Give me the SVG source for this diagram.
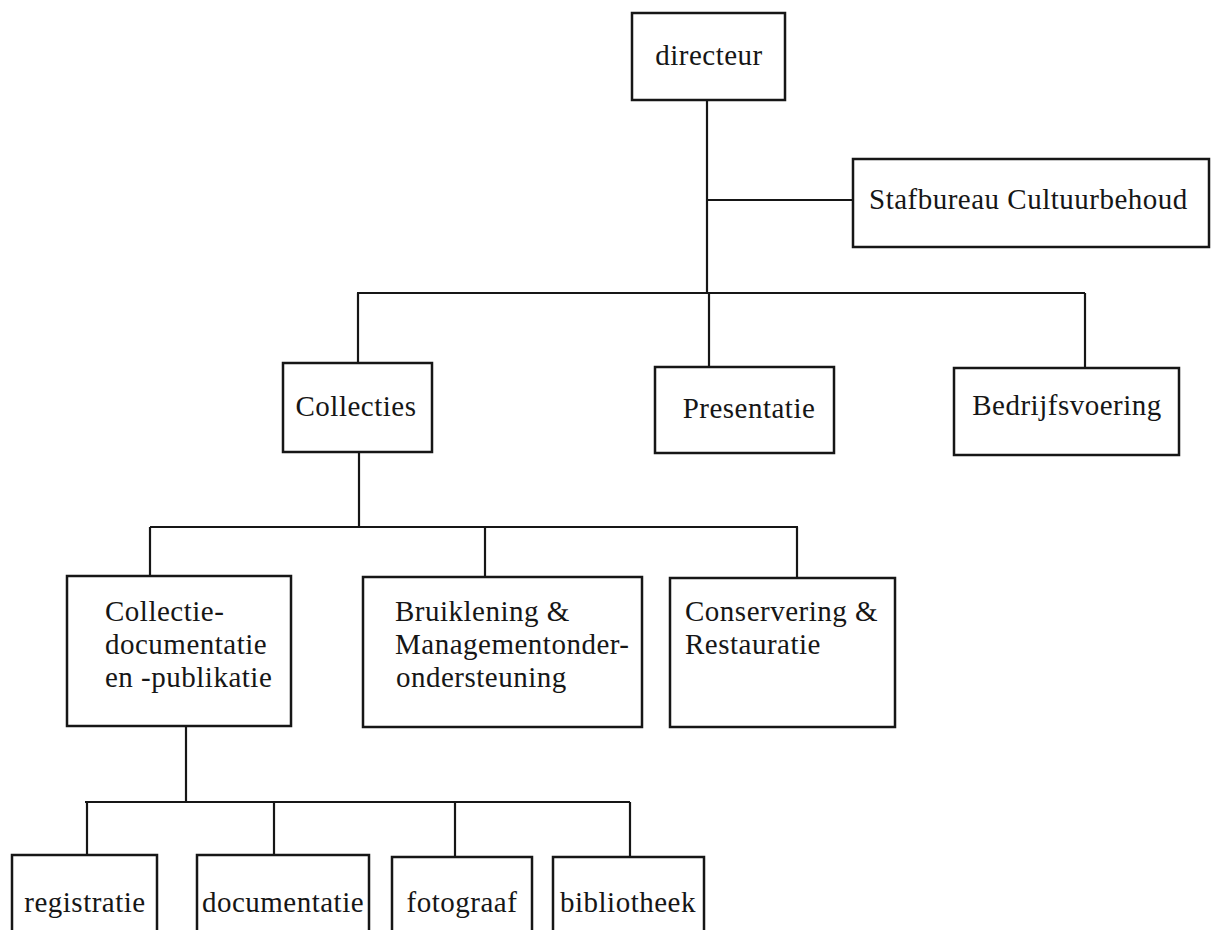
<svg xmlns="http://www.w3.org/2000/svg" width="1213" height="930" viewBox="0 0 1213 930">
<style>
.box{fill:#fff;stroke:#161616;stroke-width:2.5}
.ln{fill:none;stroke:#161616;stroke-width:2.2}
text{font-family:"Liberation Serif","Times New Roman",serif;font-size:29px;fill:#161616;letter-spacing:0.5px}
.c{text-anchor:middle}
</style>
<rect width="1213" height="930" fill="#fff"/>
<g id="connectors">
<path class="ln" d="M707,100 V293"/>
<path class="ln" d="M707,200 H853"/>
<path class="ln" d="M357,293 H1085"/>
<path class="ln" d="M358,293 V363"/>
<path class="ln" d="M709,293 V367"/>
<path class="ln" d="M1085,293 V368"/>
<path class="ln" d="M359,452 V527"/>
<path class="ln" d="M150,527 H798"/>
<path class="ln" d="M150,527 V576"/>
<path class="ln" d="M485,527 V577"/>
<path class="ln" d="M797,527 V578"/>
<path class="ln" d="M186,726 V802"/>
<path class="ln" d="M85,802 H630"/>
<path class="ln" d="M87,802 V855"/>
<path class="ln" d="M274,802 V855"/>
<path class="ln" d="M455,802 V857"/>
<path class="ln" d="M630,802 V856"/>
</g>
<g id="directeur">
<rect class="box" x="632" y="13" width="153" height="87"/>
<text class="c" x="709" y="65">directeur</text>
</g>
<g id="stafbureau">
<rect class="box" x="853" y="159" width="356" height="88"/>
<text x="869" y="209">Stafbureau Cultuurbehoud</text>
</g>
<g id="collecties">
<rect class="box" x="283" y="363" width="149" height="89"/>
<text class="c" x="356" y="416">Collecties</text>
</g>
<g id="presentatie">
<rect class="box" x="655" y="367" width="179" height="86"/>
<text class="c" x="749" y="418">Presentatie</text>
</g>
<g id="bedrijfsvoering">
<rect class="box" x="954" y="368" width="225" height="87"/>
<text class="c" x="1067" y="415">Bedrijfsvoering</text>
</g>
<g id="collectiedocumentatie">
<rect class="box" x="67" y="576" width="224" height="150"/>
<text x="105" y="621">Collectie-</text>
<text x="105" y="654">documentatie</text>
<text x="105" y="687">en -publikatie</text>
</g>
<g id="bruiklening">
<rect class="box" x="363" y="577" width="279" height="150"/>
<text x="395" y="621">Bruiklening &amp;</text>
<text x="395" y="654">Managementonder-</text>
<text x="396" y="687">ondersteuning</text>
</g>
<g id="conservering">
<rect class="box" x="670" y="578" width="225" height="149"/>
<text x="685" y="621">Conservering &amp;</text>
<text x="685" y="654">Restauratie</text>
</g>
<g id="registratie">
<rect class="box" x="12" y="855" width="145" height="90"/>
<text class="c" x="85" y="912">registratie</text>
</g>
<g id="documentatie">
<rect class="box" x="197" y="855" width="172" height="90"/>
<text class="c" x="283" y="912">documentatie</text>
</g>
<g id="fotograaf">
<rect class="box" x="392" y="857" width="140" height="90"/>
<text class="c" x="462" y="912">fotograaf</text>
</g>
<g id="bibliotheek">
<rect class="box" x="553" y="857" width="151" height="90"/>
<text class="c" x="628" y="912">bibliotheek</text>
</g>
</svg>
